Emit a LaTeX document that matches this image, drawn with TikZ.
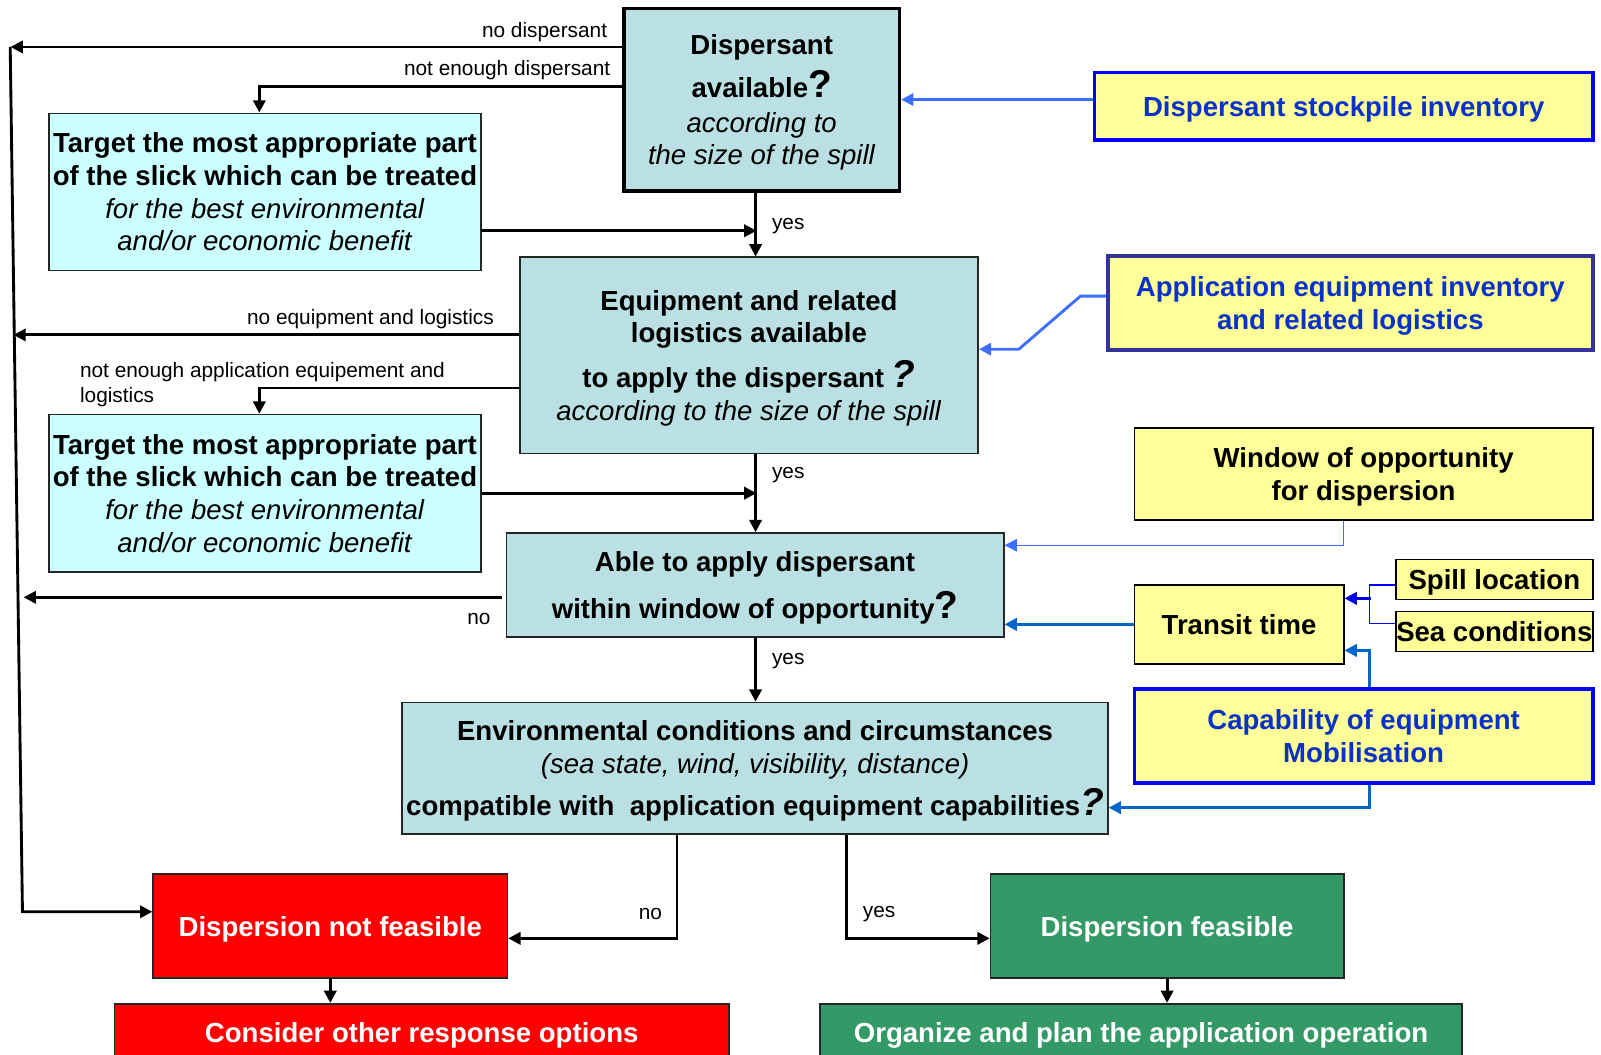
\documentclass[tikz,border=0pt]{standalone}
\usepackage{fontspec}
\setmainfont{Liberation Sans}
\usepackage{xcolor}
\usetikzlibrary{arrows.meta}

\definecolor{qfill}{RGB}{187,224,227}
\definecolor{tfill}{RGB}{204,255,255}
\definecolor{yfill}{RGB}{255,255,153}
\definecolor{btext}{RGB}{10,50,200}
\definecolor{bline}{RGB}{60,110,255}
\definecolor{dline}{RGB}{0,102,204}
\definecolor{nbord}{RGB}{51,51,153}
\definecolor{gfill}{RGB}{51,153,102}

\newcommand\fsmain{\fontsize{13.5}{16}\selectfont}
\newcommand\fslab{\fontsize{10.2}{12}\selectfont}
\newcommand\bigq{{\fontsize{19}{19}\selectfont\bfseries ?}}
\newcommand\bigqi{{\fontsize{19}{19}\selectfont\bfseries\itshape ?}}

\begin{document}
\begin{tikzpicture}[x=0.5pt, y=-0.5pt,
    qbox/.style={draw=black!85, line width=0.8pt, fill=qfill, align=center, inner sep=0pt, text depth=0pt, font=\fsmain},
    tbox/.style={draw=black!85, line width=0.8pt, fill=tfill, align=center, inner sep=0pt, text depth=0pt, font=\fsmain},
    ybox/.style={draw=black, line width=0.8pt, fill=yfill, align=center, inner sep=0pt, text depth=0pt, font=\fsmain\bfseries},
    bbox/.style={draw=blue, line width=1.8pt, fill=yfill, align=center, inner sep=0pt, text depth=0pt, font=\fsmain\bfseries, text=btext},
    rbox/.style={draw=black!85, line width=0.8pt, fill=red, align=center, inner sep=0pt, text depth=0pt, font=\fsmain\bfseries, text=white},
    gbox/.style={draw=black!85, line width=0.8pt, fill=gfill, align=center, inner sep=0pt, text depth=0pt, font=\fsmain\bfseries, text=white},
    arr/.style={-{Triangle[length=6pt,width=6pt]}, line width=1.4pt},
    barr/.style={-{Triangle[length=6pt,width=6pt]}, line width=1.4pt, draw=bline},
    warr/.style={-{Triangle[length=6pt,width=6pt]}, line width=0.7pt, draw=bline},
    darr/.style={-{Triangle[length=6pt,width=6pt]}, line width=1.4pt, draw=dline},
    sline/.style={line width=0.6pt, draw=blue},
    sarr/.style={-{Triangle[length=6pt,width=6pt]}, line width=1.4pt, draw=blue!90!black},
    lab/.style={font=\fslab, inner sep=1pt},
  ]
    \path[use as bounding box, clip] (0,0) rectangle (1568,1033);

    \node[qbox, draw=black, line width=1.6pt, minimum width=135pt, minimum height=89.5pt] (disp) at (746,97.5)
        {\textbf{Dispersant}\\[4pt] \textbf{available}\bigq\\[1pt] \textit{according to}\\ \textit{the size of the spill}};
    \node[bbox, minimum width=244pt, minimum height=33pt] (stock) at (1316,104) {Dispersant stockpile inventory};
    \node[tbox, minimum width=211.5pt, minimum height=77pt] (target1) at (259.5,188)
        {\textbf{Target the most appropriate part}\\ \textbf{of the slick which can be treated}\\ \textit{for the best environmental}\\ \textit{and/or economic benefit}};
    \node[qbox, minimum width=224.5pt, minimum height=96pt] (equip) at (733.5,348)
        {\textbf{Equipment and related}\\ \textbf{logistics available}\\[5pt] \textbf{to apply the dispersant }\bigqi\\ \textit{according to the size of the spill}};
    \node[bbox, draw=nbord, minimum width=237.5pt, minimum height=46pt] (appinv) at (1322.5,297)
        {Application equipment inventory\\ and related logistics};
    \node[ybox, minimum width=224.5pt, minimum height=45pt] (window) at (1335.5,464) {Window of opportunity\\ for dispersion};
    \node[tbox, minimum width=211.5pt, minimum height=77pt] (target2) at (259.5,483)
        {\textbf{Target the most appropriate part}\\ \textbf{of the slick which can be treated}\\ \textit{for the best environmental}\\ \textit{and/or economic benefit}};
    \node[qbox, minimum width=243.5pt, minimum height=51pt] (able) at (739.5,573)
        {\textbf{Able to apply dispersant}\\[6pt] \textbf{within window of opportunity}\bigq};
    \node[ybox, minimum width=96.5pt, minimum height=19.5pt] (spill) at (1463.5,567.5) {Spill location};
    \node[ybox, minimum width=96.5pt, minimum height=19.5pt] (sea) at (1463.5,618.5) {Sea conditions};
    \node[ybox, minimum width=102.5pt, minimum height=38.5pt] (transit) at (1213.5,611.5) {Transit time};
    \node[bbox, minimum width=224.5pt, minimum height=46pt] (capab) at (1335.5,721) {Capability of equipment\\ Mobilisation};
    \node[qbox, minimum width=345.5pt, minimum height=64.5pt] (env) at (739.5,752.5)
        {\textbf{Environmental conditions and circumstances}\\ \textit{(sea state, wind, visibility, distance)}\\[3.5pt] \textbf{compatible with\ \ application equipment capabilities}\bigqi};
    \node[rbox, minimum width=173.5pt, minimum height=51pt] (notfeas) at (323.5,907) {Dispersion not feasible};
    \node[gbox, minimum width=173pt, minimum height=51pt] (feas) at (1143,907) {Dispersion feasible};
    \node[rbox, minimum width=301pt, minimum height=28.5pt] (consider) at (413,1011.5) {Consider other response options};
    \node[gbox, minimum width=314.5pt, minimum height=28.5pt] (organize) at (1117.5,1011.5) {Organize and plan the application operation};

    \coordinate (mid) at (740,0);
    \coordinate (railtop) at (10,46);
    \coordinate (railbot) at (22,893);

    \draw[arr] ([shift={(0,-51.5)}]disp.west) -- ++(-599,0);
    \draw[arr] ([shift={(0,-12.5)}]disp.west) -| ([shift={(-5.5,0)}]target1.north);
    \draw[arr] (disp.south -| mid) -- (equip.north -| mid);
    \draw[arr] ([shift={(0,38)}]target1.east) -- ++(269,0);
    \draw[arr] ([shift={(0,-20)}]equip.west) -- ++(-495,0);
    \draw[arr] ([shift={(0,32)}]equip.west) -| ([shift={(-5.5,0)}]target2.north);
    \draw[arr] (equip.south -| mid) -- (able.north -| mid);
    \draw[arr] (target2.east) -- ++(269,0);
    \draw[arr] ([shift={(-4,12)}]able.west) -- ++(-468,0);
    \draw[arr] (able.south -| mid) -- (env.north -| mid);
    \draw[arr] ([shift={(-76.5,0)}]env.south) |- ([shift={(0,12)}]notfeas.east);
    \draw[arr] ([shift={(89.5,0)}]env.south) |- ([shift={(0,12)}]feas.west);
    \draw[arr] (notfeas.south) -- (notfeas.south |- consider.north);
    \draw[arr] (feas.south) -- (feas.south |- organize.north);
    \draw[arr] (railtop) -- (railbot) -- (railbot -| notfeas.west);

    \draw[barr] (stock.west |- disp.east) -- (disp.east);
    \draw[barr] ([shift={(0,-7)}]appinv.west) -- ++(-25,0) -- ([shift={(39,-6)}]equip.east) -- ([shift={(0,-6)}]equip.east);
    \draw[warr] ([shift={(-19.5,0)}]window.south) |- ([shift={(0,-39)}]able.east);
    \draw[darr] (transit.west) -- (transit.west -| able.east);
    \draw[sline] ([shift={(0,5.5)}]spill.west) -- ++(-25,0) |- ([shift={(0,-7.5)}]sea.west);
    \draw[sarr] ([shift={(26,-25.5)}]transit.east) -- ([shift={(0,-25.5)}]transit.east);
    \draw[darr] ([shift={(5.5,0)}]capab.north) |- ([shift={(0,25.5)}]transit.east);
    \draw[darr] ([shift={(5.5,0)}]capab.south) |- ([shift={(0,38.5)}]env.east);

    \node[lab, anchor=east] (lnodisp) at (597,31) {no dispersant};
    \node[lab, anchor=east] (lnotdisp) at (600,69) {not enough dispersant};
    \node[lab] (lyes1) at (772,221) {yes};
    \node[lab, anchor=east] (lnoequip) at (486,313) {no equipment and logistics};
    \node[lab, anchor=north west, align=left] (lnotequip) at (76,353) {not enough application equipement and\\ logistics};
    \node[lab] (lyes2) at (772,465) {yes};
    \node[lab] (lno3) at (469,606) {no};
    \node[lab] (lyes3) at (772,647) {yes};
    \node[lab] (lno4) at (637,895) {no};
    \node[lab] (lyes4) at (861,895) {yes};
\end{tikzpicture}
\end{document}
